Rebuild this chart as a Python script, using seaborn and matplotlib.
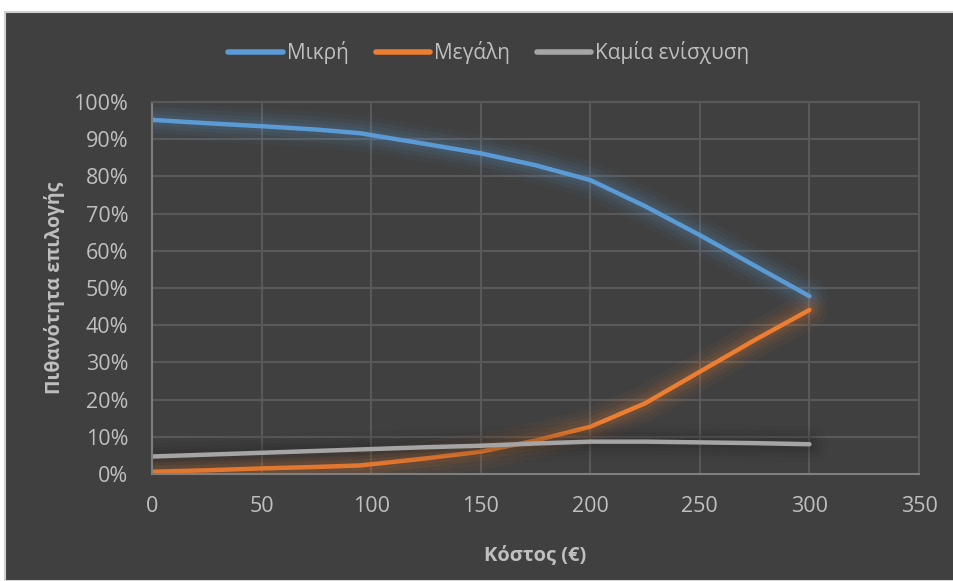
import pandas as pd
import matplotlib
matplotlib.use('Agg')
import matplotlib.pyplot as plt
import matplotlib.patheffects as pe
from matplotlib.lines import Line2D
from matplotlib.patches import Rectangle
from matplotlib.ticker import PercentFormatter
import seaborn as sns

# Values
cost = [0, 25, 50, 75, 95, 125, 150, 175, 200, 225, 250, 275, 300]
small = [95.2, 94.3, 93.5, 92.6, 91.6, 88.7, 86.2, 83.0, 79.0, 72.0, 64.2, 56.0, 47.8]
large = [0.6, 1.0, 1.5, 1.9, 2.3, 4.2, 6.0, 9.0, 12.7, 19.0, 27.5, 36.0, 44.1]
none_ = [4.7, 5.2, 5.7, 6.2, 6.6, 7.2, 7.6, 8.2, 8.7, 8.7, 8.5, 8.3, 8.0]
series = ['Μικρή', 'Μεγάλη', 'Καμία ενίσχυση']
colors = ['#5B9BD5', '#ED7D31', '#A5A5A5']

BG = '#404040'
TXT = '#BFBFBF'
GRID = '#595959'

sns.set_theme(style='dark')
plt.rcParams['font.family'] = ['Open Sans', 'DejaVu Sans']

df = pd.DataFrame({
    'cost': cost * 3,
    'prob': [v / 100 for v in small + large + none_],
    'series': [series[0]] * len(cost) + [series[1]] * len(cost) + [series[2]] * len(cost),
})

fig = plt.figure(figsize=(9.54, 5.81), dpi=100, facecolor='white')
fig.patches.append(Rectangle((5 / 954, 0), 1, (581 - 12) / 581, transform=fig.transFigure,
                             facecolor=BG, edgecolor='#D0D0D0', linewidth=1.5, zorder=-5))
ax = fig.add_axes([152 / 954, (581 - 474) / 581, (919 - 152) / 954, (474 - 102) / 581])
ax.set_zorder(2)
ax.set_facecolor(BG)

sns.lineplot(data=df, x='cost', y='prob', hue='series', hue_order=series,
             palette=colors, linewidth=3.2, ax=ax, legend=False, sort=False)

# soft glow around each line
glow_cols = ['#5B9BD5', '#ED7D31', '#1A1A1A']
for line, gc in zip(ax.lines, glow_cols):
    line.set_solid_capstyle('round')
    line.set_solid_joinstyle('round')
    line.set_path_effects([
        pe.Stroke(linewidth=26, foreground=gc, alpha=0.05),
        pe.Stroke(linewidth=19, foreground=gc, alpha=0.06),
        pe.Stroke(linewidth=13, foreground=gc, alpha=0.08),
        pe.Stroke(linewidth=8, foreground=gc, alpha=0.09),
        pe.Normal(),
    ])

ax.set_xlim(0, 350)
ax.set_ylim(0, 1)
ax.set_xticks(range(0, 351, 50))
ax.set_yticks([i / 10 for i in range(11)])
ax.yaxis.set_major_formatter(PercentFormatter(1.0, decimals=0))
ax.grid(True, color=GRID, linewidth=1.5)
ax.tick_params(axis='both', colors=TXT, labelsize=15.5, length=0)
ax.tick_params(axis='x', pad=16)
ax.tick_params(axis='y', pad=17)
for name, sp in ax.spines.items():
    sp.set_visible(True)
    sp.set_color(GRID)
    sp.set_linewidth(1.5)
ax.spines['left'].set_color('#7F7F7F')
ax.spines['bottom'].set_color('#7F7F7F')

ax.set_xlabel('Κόστος (€)', color=TXT, fontsize=14.5, fontweight='bold', labelpad=20)
ax.set_ylabel('Πιθανότητα επιλογής', color=TXT, fontsize=14, fontweight='bold', labelpad=6)

handles = [Line2D([], [], color=c, linewidth=4, solid_capstyle='round') for c in colors]
leg = fig.legend(handles, series, loc='center', bbox_to_anchor=(489 / 954, 1 - 53 / 581),
                 ncol=3, frameon=False, fontsize=15, handlelength=2.6, handletextpad=0.2,
                 columnspacing=1.3)
for t in leg.get_texts():
    t.set_color(TXT)

fig.savefig('out.png', dpi=100, facecolor=fig.get_facecolor())
